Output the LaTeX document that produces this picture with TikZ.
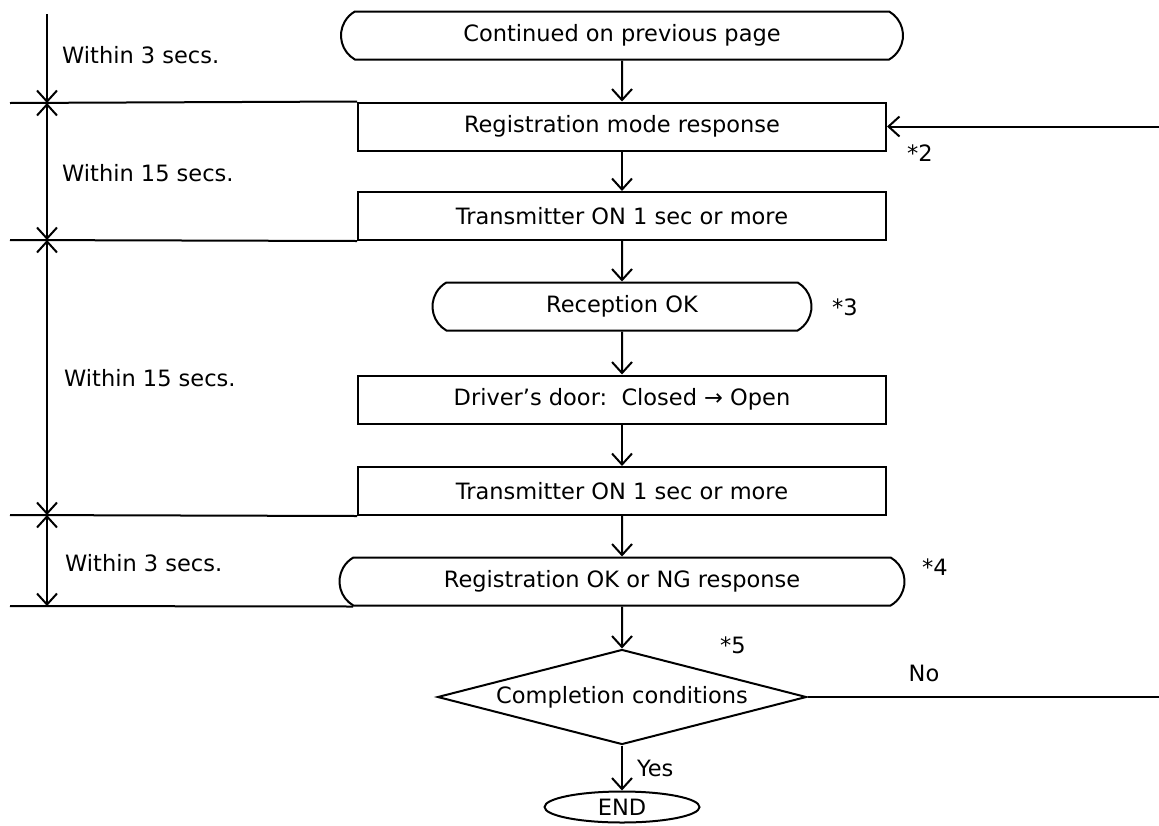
\documentclass[tikz,border=0pt]{standalone}
\usepackage{fontspec}
\setmainfont{DejaVu Sans}
\usetikzlibrary{
    arrows.meta,
    shapes.geometric,
    shapes.misc,
    calc,
    positioning
}
\tikzset{box/.style={rectangle, draw=black, line width=2pt, minimum width=528pt, minimum height=48pt, inner sep=0pt}}
\tikzset{term/.style={rounded rectangle, rounded rectangle arc length=120, draw=black, line width=2pt, minimum height=48pt, inner sep=0pt}}
\tikzset{cond/.style={diamond, draw=black, line width=2pt, shape aspect=3.9, minimum width=369pt, minimum height=95pt, inner sep=0pt}}
\tikzset{endnode/.style={ellipse, draw=black, line width=2pt, minimum width=155pt, minimum height=31pt, inner sep=0pt}}
\tikzset{flow/.style={line width=2pt, -{Straight Barb[length=11pt,width=20pt]}}}
\tikzset{span/.style={line width=2pt, {Straight Barb[length=11pt,width=20pt]}-{Straight Barb[length=11pt,width=20pt]}}}
\tikzset{rule/.style={line width=2pt}}
\tikzset{note/.style={inner sep=0pt}}

\begin{document}
\begin{tikzpicture}[x=1pt, y=-1pt, font=\fontsize{22.5}{27}\selectfont]
    \useasboundingbox (0,0) rectangle (1159,825);

    \node[term, minimum width=562pt] (cont) at (622, 35.5) {Continued on previous page};
    \node[box] (reg) at (622, 126.5) {Registration mode response};
    \node[box] (tx1) at (622, 216) {Transmitter ON 1 sec or more};
    \node[term, minimum width=379pt] (recv) at (622, 306.5) {Reception OK};
    \node[box] (door) at (622, 399.5) {Driver’s door:\ \ Closed → Open};
    \node[box] (tx2) at (622, 491) {Transmitter ON 1 sec or more};
    \node[term, minimum width=565pt] (regok) at (622, 581.5) {Registration OK or NG response};
    \node[cond] (compl) at (622, 697) {Completion conditions};
    \node[endnode] (fin) at (622, 807) {END};

    \draw[flow] (cont) -- (reg);
    \draw[flow] (reg) -- (tx1);
    \draw[flow] (tx1) -- (recv);
    \draw[flow] (recv) -- (door);
    \draw[flow] (door) -- (tx2);
    \draw[flow] (tx2) -- (regok);
    \draw[flow] (regok) -- (compl);
    \draw[flow] (compl) -- node[note, right=14pt] (yes) {Yes} (fin);

    % loop back and exit
    \coordinate (back) at (1159, 126.5);
    \coordinate (exit) at (1159, 697);
    \draw[flow] (back) -- (reg.east);
    \draw[rule] (compl.east) -- (exit);

    % time marks on the left
    \coordinate (t0) at (47, 14);
    \coordinate (t1) at (47, 103);
    \coordinate (t2) at (47, 240);
    \coordinate (t3) at (47, 515);
    \coordinate (t4) at (47, 606);
    \coordinate (l1) at (10, 103);
    \coordinate (l2) at (10, 240);
    \coordinate (l3) at (10, 515);
    \coordinate (l4) at (10, 606);

    \draw[flow] (t0) -- (t1);
    \draw[span] (t1) -- (t2);
    \draw[span] (t2) -- (t3);
    \draw[span] (t3) -- (t4);
    \draw[rule] (l1) -- (reg.north west);
    \draw[rule] (l2) -- (tx1.south west);
    \draw[rule] (l3) -- (tx2.south west);
    \draw[rule] (l4) -- (regok.south west);

    \node[note, anchor=west] (w1) at (62, 55) {Within 3 secs.};
    \node[note, anchor=west] (w2) at (62, 173) {Within 15 secs.};
    \node[note, anchor=west] (w3) at (64, 378) {Within 15 secs.};
    \node[note, anchor=west] (w4) at (65, 563) {Within 3 secs.};

    \node[note] (n2) at (920, 153) {*2};
    \node[note] (n3) at (845, 307) {*3};
    \node[note] (n4) at (935, 567) {*4};
    \node[note] (n5) at (733, 645) {*5};
    \node[note] (no) at (924, 673) {No};
\end{tikzpicture}
\end{document}
